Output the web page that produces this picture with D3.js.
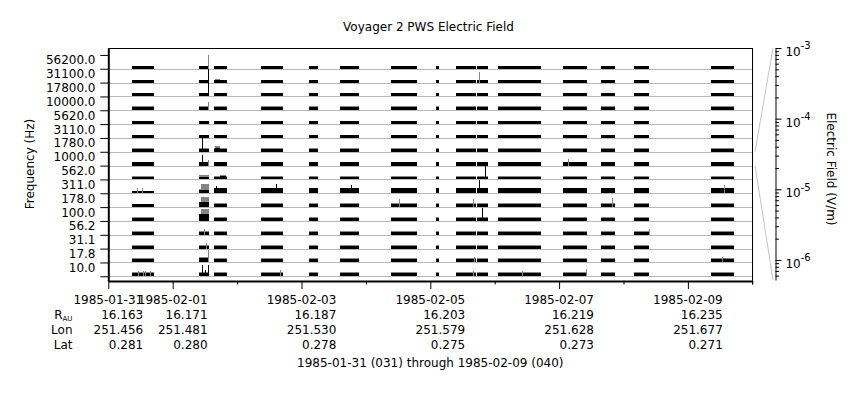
<!DOCTYPE html>
<html>
<head>
<meta charset="utf-8">
<script src="https://cdn.jsdelivr.net/npm/d3@7/dist/d3.min.js"></script>
<style>
  html, body { margin: 0; padding: 0; background: #fff; }
  svg { display: block; font-family: "DejaVu Sans", sans-serif; }
  text { fill: #000; }
</style>
</head>
<body>
<svg id="chart" width="860" height="400"></svg>
<script>
// ---------------- DATA ----------------
const channels = ["56200.0","31100.0","17800.0","10000.0","5620.0","3110.0","1780.0","1000.0",
                  "562.0","311.0","178.0","100.0","56.2","31.1","17.8","10.0"];
// data segments, in days after 1985-01-31 00:00 UT
const segStart = [0.363,1.409,1.642,2.367,3.117,3.599,4.391,5.090,5.401,5.727,6.053,7.063,7.653,8.165,9.362];
const segEnd   = [0.710,1.564,1.848,2.714,3.262,3.894,4.795,5.132,5.707,5.898,6.721,7.436,7.870,8.398,9.719];
// typical average (black) and peak (gray) electric field per channel, V/m
const avgBase  = [3.2e-6,3.2e-6,3.2e-6,3.2e-6,3.2e-6,3.2e-6,3.2e-6,4.6e-6,1.6e-6,6.8e-6,3.2e-6,3.2e-6,3.2e-6,3.2e-6,3.2e-6,3.2e-6];
const peakBase = [3.2e-6,3.2e-6,3.2e-6,3.8e-6,3.2e-6,3.2e-6,3.7e-6,4.6e-6,2.3e-6,7.6e-6,4.4e-6,4.2e-6,4.0e-6,4.4e-6,4.4e-6,4.4e-6];
// per segment overrides: [segment, channel, average, peak]
const overrides = [
  [0,9,1.6e-6,2.0e-6],[0,10,2.3e-6,3.2e-6],[0,12,2.3e-6,3.6e-6],
  [1,8,1.6e-6,4.6e-6],[1,9,3.2e-6,3.6e-6],[1,10,6.8e-6,6.8e-6],[1,11,2.0e-5,2.0e-5],[1,14,5.4e-6,9.6e-6],
  [8,6,3.2e-6,5.5e-6],[9,6,3.2e-6,5.5e-6]
];
// partial-segment enhancements: [start day, end day, channel, value, colour]
const bumps = [
  [1.44,1.564,9,8.4e-5,"gray"],[1.44,1.564,10,1.2e-4,"gray"],[1.44,1.564,11,3.7e-4,"gray"],
  [1.66,1.74,1,5.5e-6,"gray"],[1.66,1.74,6,1.2e-5,"gray"],[1.74,1.83,8,4.6e-6,"gray"],
  [1.66,1.74,6,4.6e-6,"black"],[1.74,1.83,8,3.2e-6,"black"]
];
// single spikes: [day, channel, value, colour]
const spikes = [
  [1.553,0,9.5e-4,"gray"],[1.553,1,1e-3,"black"],[1.553,2,1e-3,"black"],[1.553,3,4.1e-5,"gray"],
  [1.460,6,8.5e-4,"black"],[1.460,7,1.8e-4,"black"],[1.553,7,1.65e-5,"gray"],
  [1.486,12,1.17e-5,"gray"],[1.513,13,1.65e-5,"gray"],[1.553,14,3.7e-4,"gray"],
  [1.460,15,2.5e-4,"black"],[1.502,15,1.65e-5,"black"],[1.553,15,2.5e-4,"black"],
  [0.466,15,6.8e-6,"gray"],[0.544,15,1.0e-5,"gray"],[0.570,15,7.5e-6,"gray"],[0.648,15,6.8e-6,"gray"],
  [0.441,9,6.8e-6,"gray"],[0.528,9,6.8e-6,"gray"],
  [1.668,9,2.4e-5,"black"],
  [2.605,9,6.0e-5,"black"],[2.667,15,1.2e-5,"gray"],
  [3.774,9,3.5e-5,"black"],[4.520,10,3.5e-5,"gray"],
  [5.763,1,1.7e-4,"gray"],[5.856,8,5.5e-4,"black"],[5.763,9,7.0e-4,"black"],[5.670,10,3.5e-5,"gray"],
  [5.809,11,5.0e-4,"black"],[5.680,14,9.6e-6,"gray"],[5.660,15,6.8e-6,"gray"],
  [6.421,15,6.8e-6,"gray"],
  [7.136,7,2.0e-5,"gray"],[7.415,15,2.6e-5,"gray"],[7.819,10,6.0e-5,"gray"],
  [8.394,12,1.2e-5,"gray"],[9.568,9,3.5e-5,"gray"],[9.532,14,9.0e-6,"gray"]
];
// axis / ephemeris labels
const majorDates = ["1985-01-31","1985-02-01","1985-02-03","1985-02-05","1985-02-07","1985-02-09"];
const minorDates = ["1985-02-02","1985-02-04","1985-02-06","1985-02-08","1985-02-10"];
const rAU = ["16.163","16.171","16.187","16.203","16.219","16.235"];
const lon = ["251.456","251.481","251.530","251.579","251.628","251.677"];
const lat = ["0.281","0.280","0.278","0.275","0.273","0.271"];
const fieldMajor = [1e-3,1e-4,1e-5,1e-6];
const fieldExp = ["-3","-4","-5","-6"];
const fieldDomain = [5.2e-7, 1e-3];
const title = "Voyager 2 PWS Electric Field";
const caption = "1985-01-31 (031) through 1985-02-09 (040)";
const refChannel = 7;

// ---------------- SCALES ----------------
const svg = d3.select("#chart");
const T0 = Date.UTC(1985,0,31);
const day = d => new Date(T0 + d*864e5);
const parse = d3.utcParse("%Y-%m-%d");
const COL = {gray:"#858585", black:"#000"};

const plot = {left:108.3, right:752.3, top:48, bottom:281};
const x = d3.scaleUtc().domain([day(0), day(10)]).range([plot.left, plot.right]);
const yBand = d3.scaleLinear().domain([-0.5, 16.34]).range([plot.top, plot.bottom]);
const bandH = yBand(1) - yBand(0);
const vH = d3.scaleLog().domain(fieldDomain).range([0, bandH]).clamp(true);
const eScale = d3.scaleLog().domain(fieldDomain).range([280, 48]);

// ---------------- GRID ----------------
svg.append("g").selectAll("line").data(channels).join("line")
  .attr("x1", plot.left).attr("x2", plot.right)
  .attr("y1", (d,i)=>Math.round(yBand(i+1))+0.5).attr("y2",(d,i)=>Math.round(yBand(i+1))+0.5)
  .attr("stroke","#b8b8b8").attr("stroke-width",1);

// ---------------- DATA MARKS ----------------
const cells = [];
channels.forEach((c,ci)=>{
  segStart.forEach((s,si)=>{
    let a = avgBase[ci], p = peakBase[ci];
    overrides.forEach(o=>{ if(o[0]===si && o[1]===ci){ a=o[2]; p=o[3]; } });
    cells.push({t0:s, t1:segEnd[si], ch:ci, avg:a, peak:p});
  });
});
const px = t => Math.round(x(day(t)));
const base = ch => Math.round(yBand(ch+1));
const gData = svg.append("g").attr("shape-rendering","crispEdges");
// gray peaks
gData.selectAll("rect.pk").data(cells).join("rect").attr("class","pk")
  .attr("x", d=>px(d.t0)).attr("width", d=>px(d.t1)-px(d.t0))
  .attr("y", d=>base(d.ch)-Math.round(vH(d.peak))).attr("height", d=>Math.round(vH(d.peak)))
  .attr("fill", COL.gray);
gData.selectAll("rect.gb").data(bumps.filter(b=>b[4]==="gray")).join("rect").attr("class","gb")
  .attr("x", d=>px(d[0])).attr("width", d=>px(d[1])-px(d[0]))
  .attr("y", d=>base(d[2])-Math.round(vH(d[3]))).attr("height", d=>Math.round(vH(d[3])))
  .attr("fill", COL.gray);
// black averages
gData.selectAll("rect.av").data(cells).join("rect").attr("class","av")
  .attr("x", d=>px(d.t0)).attr("width", d=>px(d.t1)-px(d.t0))
  .attr("y", d=>base(d.ch)-Math.round(vH(d.avg))).attr("height", d=>Math.round(vH(d.avg)))
  .attr("fill", COL.black);
gData.selectAll("rect.kb").data(bumps.filter(b=>b[4]==="black")).join("rect").attr("class","kb")
  .attr("x", d=>px(d[0])).attr("width", d=>px(d[1])-px(d[0]))
  .attr("y", d=>base(d[2])-Math.round(vH(d[3]))).attr("height", d=>Math.round(vH(d[3])))
  .attr("fill", COL.black);
// spikes
gData.selectAll("line.sp").data(spikes).join("line").attr("class","sp")
  .attr("x1", d=>px(d[0])+0.5).attr("x2", d=>px(d[0])+0.5)
  .attr("y1", d=>base(d[1])).attr("y2", d=>base(d[1])-vH(d[2]))
  .attr("stroke", d=>COL[d[3]]).attr("stroke-width",1);

// ---------------- FRAME ----------------
svg.append("line").attr("x1",plot.left).attr("x2",plot.right).attr("y1",48.5).attr("y2",48.5)
  .attr("stroke","#000");
svg.append("line").attr("x1",Math.round(plot.right)+0.5).attr("x2",Math.round(plot.right)+0.5)
  .attr("y1",48).attr("y2",284.5).attr("stroke","#000");

// ---------------- LEFT AXIS ----------------
const gy = svg.append("g").attr("transform",`translate(${plot.left},0)`)
  .call(d3.axisLeft(yBand).tickValues(d3.range(17)).tickSize(8).tickSizeOuter(0).tickFormat(""));
gy.select(".domain").attr("stroke-width",2);
gy.selectAll(".tick line").attr("stroke-width",1);
svg.append("g").selectAll("text").data(channels).join("text")
  .attr("x",95.5).attr("y",(d,i)=>yBand(i+0.5)+2.6)
  .attr("text-anchor","end").attr("font-size",12).text(d=>d);
svg.append("text").attr("transform","translate(34.2,164) rotate(-90)")
  .attr("text-anchor","middle").attr("font-size",12).text("Frequency (Hz)");

// ---------------- BOTTOM AXIS ----------------
const gxMin = svg.append("g").attr("transform",`translate(0,${plot.bottom})`)
  .call(d3.axisBottom(x).tickValues(minorDates.map(parse)).tickSize(3.5).tickSizeOuter(0).tickFormat(""));
gxMin.select(".domain").attr("stroke-width",2);
const gxMaj = svg.append("g").attr("transform",`translate(0,${plot.bottom})`)
  .call(d3.axisBottom(x).tickValues(majorDates.map(parse)).tickSize(8).tickSizeOuter(0).tickFormat(""));
gxMaj.select(".domain").remove();

const gLab = svg.append("g").attr("font-size",12);
majorDates.forEach((d,i)=>{
  const tx = x(parse(d));
  const t = gLab.append("text").attr("x",tx).attr("y",304.3).attr("text-anchor","middle").text(d);
  const half = t.node().getComputedTextLength()/2;
  [[rAU,319.3],[lon,334.3],[lat,349]].forEach(([arr,yy])=>{
    gLab.append("text").attr("x",tx+half).attr("y",yy).attr("text-anchor","end").text(arr[i]);
  });
});
const rl = gLab.append("text").attr("x",72.5).attr("y",319.3).attr("text-anchor","end");
rl.append("tspan").text("R");
rl.append("tspan").attr("font-size",7).attr("dy",1.5).text("AU");
gLab.append("text").attr("x",72.5).attr("y",334.3).attr("text-anchor","end").text("Lon");
gLab.append("text").attr("x",72.5).attr("y",349).attr("text-anchor","end").text("Lat");
gLab.append("text").attr("x",(plot.left+plot.right)/2).attr("y",366.5).attr("text-anchor","middle").text(caption);

// ---------------- TITLE ----------------
svg.append("text").attr("x",428.5).attr("y",31).attr("text-anchor","middle").attr("font-size",12).text(title);

// ---------------- RIGHT (FIELD) AXIS ----------------
const fieldMinor = [];
[-7,-6,-5,-4].forEach(e=>{ for(let k=2;k<=9;k++){ const v=k*Math.pow(10,e); if(v>=fieldDomain[0] && v<fieldDomain[1]) fieldMinor.push(v);} });
const axR = 775.5;
const gr1 = svg.append("g").attr("transform",`translate(${axR},0)`)
  .call(d3.axisRight(eScale).tickValues(fieldMinor).tickSize(3.5).tickSizeOuter(0).tickFormat(""));
const gr2 = svg.append("g").attr("transform",`translate(${axR},0)`)
  .call(d3.axisRight(eScale).tickValues(fieldMajor).tickSize(6).tickSizeOuter(0).tickFormat(""));
gr2.select(".domain").remove();
svg.append("g").selectAll("text").data(fieldMajor).join("text")
  .attr("x",785.4).attr("y",d=>eScale(d)+8.2).attr("font-size",12)
  .each(function(d,i){
    const t = d3.select(this);
    t.append("tspan").text("10");
    t.append("tspan").attr("font-size",10).attr("dy",-6.8).text(fieldExp[i]);
  });
svg.append("text").attr("transform","translate(827,169) rotate(90)")
  .attr("text-anchor","middle").attr("font-size",12).text("Electric Field (V/m)");
// fan lines linking reference channel to the field axis
const fan = [[yBand(refChannel), eScale(fieldDomain[1])],[yBand(refChannel+1), eScale(fieldDomain[0])]];
svg.append("g").selectAll("line").data(fan).join("line")
  .attr("x1",755).attr("x2",773).attr("y1",d=>d[0]).attr("y2",d=>d[1])
  .attr("stroke","#c4c4c4").attr("stroke-width",1);
</script>
</body>
</html>
